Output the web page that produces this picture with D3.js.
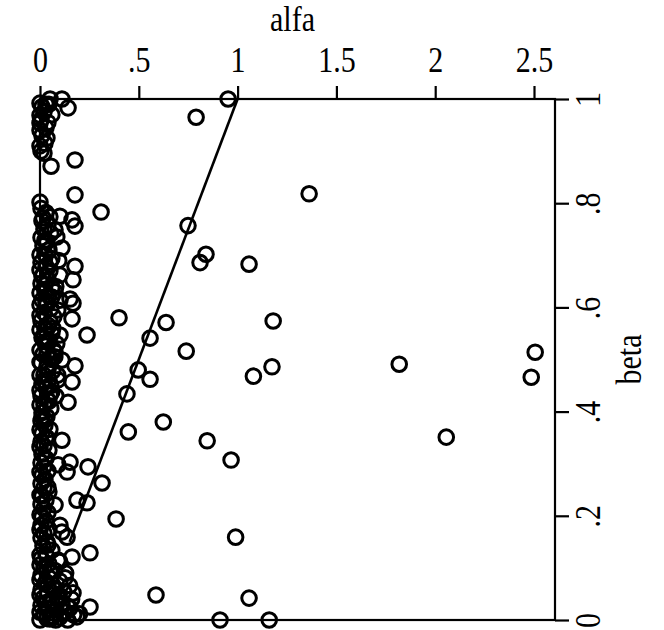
<!DOCTYPE html>
<html>
<head>
<meta charset="utf-8">
<script src="https://cdn.jsdelivr.net/npm/d3@7"></script>
<style>
  html, body { margin: 0; padding: 0; background: #fff; }
  svg { display: block; }
  text { font-family: "Liberation Serif", "Times New Roman", serif; fill: #000; }
</style>
</head>
<body>
<div id="chart"></div>
<script>
// ---- data ----
const alfa = [
  0.952, 0.79, 1.362, 0.749, 0.84, 0.81, 1.058, 0.638, 1.18, 0.40, 0.309, 0.557, 0.74, 0.497, 0.557,
  1.08, 1.174, 0.44, 0.624, 0.447, 0.846, 0.967, 0.385, 0.99, 0.587, 1.058, 0.911, 1.16, 1.818, 2.506,
  2.486, 2.056,
  0, 0.051, 0.111, 0.142, 0, 0, 0, 0.035, 0, 0.02, 0.056, 0.177,
  0, 0.177, 0.015, 0.101, 0.162, 0.177, 0.076, 0.025, 0.111, 0, 0.051, 0.177, 0, 0.101, 0.167, 0.025,
  0, 0.076, 0.152, 0.101, 0, 0.167, 0.162, 0, 0.051, 0, 0.101, 0.238, 0.025, 0, 0.076, 0.177,
  0, 0.111, 0.04, 0.162, 0, 0.091, 0, 0.051, 0.142, 0, 0.025, 0, 0.111, 0, 0.025, 0.152,
  0.091, 0.243, 0, 0.137, 0.314, 0.04, 0, 0.187, 0.238, 0.076, 0, 0.101, 0.111, 0.137, 0, 0.04,
  0.253, 0.162, 0.091, 0, 0, 0.051, 0.127, 0, 0.167, 0.076, 0, 0.253, 0.025, 0.111, 0.187, 0,
  0.061, 0.127, 0, 0.152, 0.091, 0.04,
  0.01, 0.03, 0.015, 0.035, 0.02, 0.045, 0.01, 0.03, 0.06, 0.06, 0.055, 0.065
];
const beta = [
  1.0, 0.965, 0.818, 0.757, 0.702, 0.686, 0.683, 0.571, 0.574, 0.58, 0.783, 0.541, 0.516, 0.48, 0.462,
  0.468, 0.486, 0.434, 0.38, 0.361, 0.344, 0.307, 0.194, 0.159, 0.048, 0.042, 0.0, 0.0, 0.491, 0.514,
  0.466, 0.351,
  0.992, 1.0, 1.0, 0.983, 0.969, 0.954, 0.94, 0.925, 0.91, 0.896, 0.871, 0.883,
  0.802, 0.816, 0.772, 0.775, 0.768, 0.756, 0.749, 0.729, 0.714, 0.701, 0.687, 0.679, 0.672, 0.662, 0.653, 0.643,
  0.628, 0.63, 0.616, 0.614, 0.605, 0.608, 0.578, 0.585, 0.572, 0.557, 0.547, 0.547, 0.534, 0.518, 0.514, 0.488,
  0.495, 0.499, 0.48, 0.457, 0.47, 0.461, 0.441, 0.432, 0.418, 0.413, 0.384, 0.365, 0.345, 0.332, 0.311, 0.303,
  0.298, 0.294, 0.284, 0.284, 0.263, 0.255, 0.24, 0.23, 0.225, 0.221, 0.202, 0.182, 0.169, 0.159, 0.173, 0.144,
  0.129, 0.121, 0.115, 0.125, 0.106, 0.092, 0.081, 0.077, 0.052, 0.058, 0.048, 0.025, 0.033, 0.029, 0.006, 0.015,
  0.004, 0.015, 0.0, 0.023, 0.042, 0.067,
  0.66, 0.61, 0.54, 0.51, 0.46, 0.42, 0.39, 0.35, 0.62, 0.50, 0.45, 0.56
];
// dense cluster of observations near alfa = 0
const alfaCluster = [
  0.01, 0.02, 0.005, 0.03, 0.01, 0.025, 0.005, 0.04, 0.045, 0.06, 0.03,
  0.005, 0.03, 0.05, 0.01, 0.04, 0.02, 0.055, 0.005, 0.035, 0.015, 0.045, 0.025, 0.06, 0.005, 0.03,
  0.05, 0.015, 0.04, 0.005, 0.06, 0.025, 0.045, 0.01, 0.035, 0.055, 0.02, 0.07, 0.005, 0.04, 0.025,
  0.06, 0.01, 0.045, 0.03, 0.07, 0.015, 0.05, 0.005, 0.035, 0.065, 0.02, 0.045, 0.01, 0.03, 0.06,
  0.005, 0.04, 0.02, 0.055, 0.01, 0.035, 0.005, 0.025, 0.05, 0.01, 0.035, 0.005, 0.02, 0.045, 0.01,
  0.03, 0.005, 0.02, 0.04, 0.01, 0.025, 0.005, 0.02, 0.045, 0.01, 0.03, 0.005, 0.02, 0.04,
  0.01, 0.03, 0.005, 0.045, 0.02, 0.005, 0.035, 0.015, 0.06, 0.03, 0.005, 0.1, 0.045, 0.02, 0.075,
  0.13, 0.005, 0.05, 0.1, 0.025, 0.15, 0.07, 0.005, 0.12, 0.04, 0.09, 0.015, 0.16, 0.06, 0.11,
  0.005, 0.14, 0.04, 0.08, 0.12, 0.02, 0.17, 0.06, 0.1, 0.035, 0.14, 0.08, 0.05, 0.2,
  0.085, 0.095, 0.08, 0.09, 0.085, 0.075, 0.09, 0.08
];
const betaCluster = [
  0.985, 0.975, 0.96, 0.945, 0.93, 0.915, 0.9, 0.955, 0.99, 0.97, 0.99,
  0.79, 0.782, 0.774, 0.766, 0.758, 0.75, 0.742, 0.734, 0.726, 0.718, 0.71, 0.702, 0.694, 0.686, 0.678,
  0.67, 0.662, 0.654, 0.646, 0.638, 0.63, 0.622, 0.614, 0.606, 0.598, 0.59, 0.582, 0.574, 0.566, 0.558,
  0.55, 0.542, 0.534, 0.526, 0.518, 0.51, 0.502, 0.494, 0.486, 0.478, 0.47, 0.462, 0.454, 0.446, 0.438,
  0.43, 0.422, 0.414, 0.406, 0.398, 0.39, 0.382, 0.374, 0.366, 0.358, 0.35, 0.342, 0.334, 0.326, 0.318,
  0.31, 0.302, 0.294, 0.286, 0.278, 0.27, 0.262, 0.254, 0.246, 0.238, 0.23, 0.222, 0.214, 0.206,
  0.198, 0.19, 0.182, 0.174, 0.166, 0.158, 0.15, 0.142, 0.134, 0.126, 0.118, 0.112, 0.108, 0.1, 0.095,
  0.09, 0.086, 0.08, 0.075, 0.07, 0.066, 0.062, 0.058, 0.054, 0.05, 0.046, 0.042, 0.04, 0.036, 0.032,
  0.028, 0.026, 0.022, 0.02, 0.016, 0.012, 0.01, 0.008, 0.005, 0.003, 0.0, 0.0, 0.002, 0.012,
  0.735, 0.69, 0.64, 0.595, 0.53, 0.505, 0.47, 0.43
];
const lineAlfa = [0.15, 1];
const lineBeta = [0.15, 1];
const xTicks = [0, 0.5, 1, 1.5, 2, 2.5];
const xTickLabels = ["0", ".5", "1", "1.5", "2", "2.5"];
const yTicks = [0, 0.2, 0.4, 0.6, 0.8, 1];
const yTickLabels = ["0", ".2", ".4", ".6", ".8", "1"];
const xTitle = "alfa";
const yTitle = "beta";

// ---- layout ----
const W = 664, H = 630;
const mLeft = 40, mRight = 555, mTop = 99, mBottom = 620;
const fontSize = 30;
const stretch = "scale(1,1.18)";

const x = d3.scaleLinear().domain([0, 2.5]).range([mLeft, mLeft + 2.5 * 197.6]);
const y = d3.scaleLinear().domain([0, 1]).range([mBottom, mTop]);

const svg = d3.select("#chart").append("svg")
  .attr("width", W).attr("height", H);

// plot box
svg.append("rect")
  .attr("x", mLeft).attr("y", mTop)
  .attr("width", mRight - mLeft).attr("height", mBottom - mTop)
  .attr("fill", "none").attr("stroke", "#000").attr("stroke-width", 2.2);

// top axis
const xAxis = d3.axisTop(x).tickValues(xTicks)
  .tickFormat((d, i) => xTickLabels[i]).tickSize(13);
const gx = svg.append("g").attr("transform", `translate(0,${mTop})`).call(xAxis);
gx.select(".domain").remove();
gx.selectAll(".tick line").attr("stroke", "#000").attr("stroke-width", 2.2);
gx.selectAll(".tick text")
  .attr("y", null).attr("dy", null)
  .attr("transform", `translate(0,-27) ${stretch}`)
  .style("font-family", '"Liberation Serif", serif')
  .style("font-size", fontSize + "px").attr("fill", "#000");

// right axis
const yAxis = d3.axisRight(y).tickValues(yTicks)
  .tickFormat((d, i) => yTickLabels[i]).tickSize(14);
const gy = svg.append("g").attr("transform", `translate(${mRight},0)`).call(yAxis);
gy.select(".domain").remove();
gy.selectAll(".tick line").attr("stroke", "#000").attr("stroke-width", 2.2);
gy.selectAll(".tick text")
  .attr("x", null).attr("dy", null)
  .attr("text-anchor", "middle")
  .attr("transform", `translate(45,0) rotate(-90) ${stretch}`)
  .style("font-family", '"Liberation Serif", serif')
  .style("font-size", fontSize + "px").attr("fill", "#000");

// titles
svg.append("text")
  .attr("transform", `translate(${(mLeft + mRight) / 2 - 5},31) ${stretch}`)
  .attr("text-anchor", "middle")
  .style("font-size", fontSize + "px")
  .text(xTitle);
svg.append("text")
  .attr("transform", `translate(641,${(mTop + mBottom) / 2}) rotate(-90) ${stretch}`)
  .attr("text-anchor", "middle")
  .style("font-size", fontSize + "px")
  .text(yTitle);

// points
const pts = alfa.map((a, i) => ({ a, b: beta[i] }))
  .concat(alfaCluster.map((a, i) => ({ a, b: betaCluster[i] })));
svg.append("g").selectAll("circle").data(pts).join("circle")
  .attr("cx", d => x(d.a)).attr("cy", d => y(d.b)).attr("r", 7.3)
  .attr("fill", "none").attr("stroke", "#000").attr("stroke-width", 3);

// line
const linePts = lineAlfa.map((a, i) => [a, lineBeta[i]]);
svg.append("path")
  .attr("d", d3.line().x(d => x(d[0])).y(d => y(d[1]))(linePts))
  .attr("fill", "none").attr("stroke", "#000").attr("stroke-width", 2.6);
</script>
</body>
</html>
